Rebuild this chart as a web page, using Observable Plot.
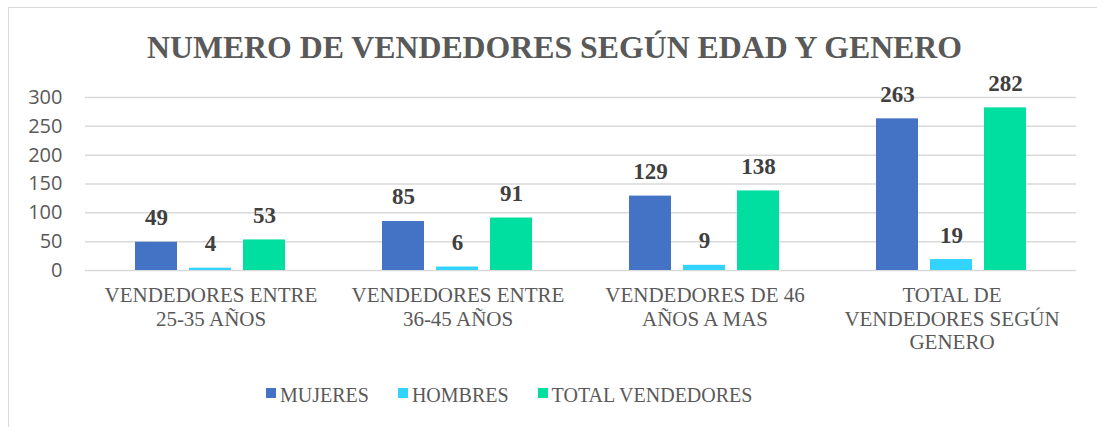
<!DOCTYPE html>
<html>
<head>
<meta charset="utf-8">
<script src="https://cdn.jsdelivr.net/npm/d3@7"></script>
<script src="https://cdn.jsdelivr.net/npm/@observablehq/plot@0.6"></script>
<style>
  html, body { margin: 0; padding: 0; background: #fff; }
  #wrap { position: relative; width: 1097px; height: 427px; overflow: hidden; background: #fff; }
  #frame { position: absolute; left: 8px; top: 7px; width: 1200px; height: 500px;
           border-left: 1.5px solid #d9d9d9; border-top: 1.5px solid #d9d9d9; }
  #title { position: absolute; left: 0; top: 31.6px; width: 1097px; padding-left: 12px; box-sizing: border-box;
           text-align: center; font-family: "Liberation Serif", "Times New Roman", serif; font-weight: bold;
           font-size: 31.8px; line-height: 31.5px; color: #595959; white-space: nowrap; }
  .layer { position: absolute; left: 0; top: 70px; }
  #legend { position: absolute; left: 266px; top: 385px; display: flex; align-items: center;
            font-family: "Liberation Serif", "Times New Roman", serif; font-size: 20px; line-height: 20px; color: #595959; }
  .item { display: flex; align-items: center; margin-right: 29px; }
  .sw { width: 10px; height: 10px; margin-right: 4px; position: relative; top: -2px; }
</style>
</head>
<body>
<div id="wrap">
  <div id="frame"></div>
  <div id="title">NUMERO DE VENDEDORES SEGÚN EDAD Y GENERO</div>
  <div id="back" class="layer"></div>
  <div id="chart" class="layer"></div>
  <div id="legend"></div>
</div>
<script>
const categories = [
  "VENDEDORES ENTRE\n25-35 AÑOS",
  "VENDEDORES ENTRE\n36-45 AÑOS",
  "VENDEDORES DE 46\nAÑOS A MAS",
  "TOTAL DE\nVENDEDORES SEGÚN\nGENERO"
];
const series = ["MUJERES", "HOMBRES", "TOTAL VENDEDORES"];
const mujeres = [49, 85, 129, 263];
const hombres = [4, 6, 9, 19];
const totalVendedores = [53, 91, 138, 282];
const yTicks = [0, 50, 100, 150, 200, 250, 300];
const colors = ["#4472C4", "#33D3FF", "#00DEA0"];

const valuesBySeries = [mujeres, hombres, totalVendedores];
const data = [];
categories.forEach((c, i) => {
  series.forEach((s, j) => {
    data.push({category: c, series: s, value: valuesBySeries[j][i]});
  });
});

const serif = "'Liberation Serif', 'Times New Roman', serif";
const dims = {width: 1097, height: 300, marginTop: 27, marginBottom: 100, marginLeft: 85, marginRight: 21};

// Background layer: gridlines and y-axis spanning the full plot width
const back = Plot.plot({
  ...dims,
  style: {background: "transparent", overflow: "visible"},
  y: {domain: [0, 300], axis: null},
  marks: [
    Plot.ruleY(yTicks, {y: d => d, stroke: "#d9d9d9", strokeWidth: 1.5}),
    Plot.axisY({ticks: yTicks, tickSize: 0, tickPadding: 23, fontSize: 20,
      fontFamily: "'Open Sans', sans-serif", fill: "#595959", label: null})
  ]
});
document.getElementById("back").appendChild(back);

// Foreground layer: grouped bars
const chart = Plot.plot({
  ...dims,
  style: {background: "transparent", overflow: "visible"},
  fx: {domain: categories, paddingInner: 0.382, paddingOuter: 0.191, label: null, axis: null},
  x: {domain: series, paddingInner: 0.218, paddingOuter: 0, axis: null},
  y: {domain: [0, 300], axis: null},
  color: {domain: series, range: colors},
  marks: [
    Plot.barY(data, {fx: "category", x: "series", y: "value", fill: "series"}),
    Plot.text(data, {fx: "category", x: "series", y: "value", text: d => String(d.value),
      dy: -17, lineAnchor: "bottom", fontSize: 23, fontWeight: "bold", fontFamily: serif, fill: "#404040"}),
    Plot.axisFx({anchor: "bottom", tickSize: 0, tickPadding: 15, lineAnchor: "top", lineHeight: 1.12,
      fontSize: 21, fontFamily: serif, fill: "#595959", label: null})
  ]
});
document.getElementById("chart").appendChild(chart);

const legend = document.getElementById("legend");
series.forEach((s, j) => {
  const item = document.createElement("div");
  item.className = "item";
  const sw = document.createElement("div");
  sw.className = "sw";
  sw.style.background = colors[j];
  const label = document.createElement("span");
  label.textContent = s;
  item.appendChild(sw);
  item.appendChild(label);
  legend.appendChild(item);
});
</script>
</body>
</html>
